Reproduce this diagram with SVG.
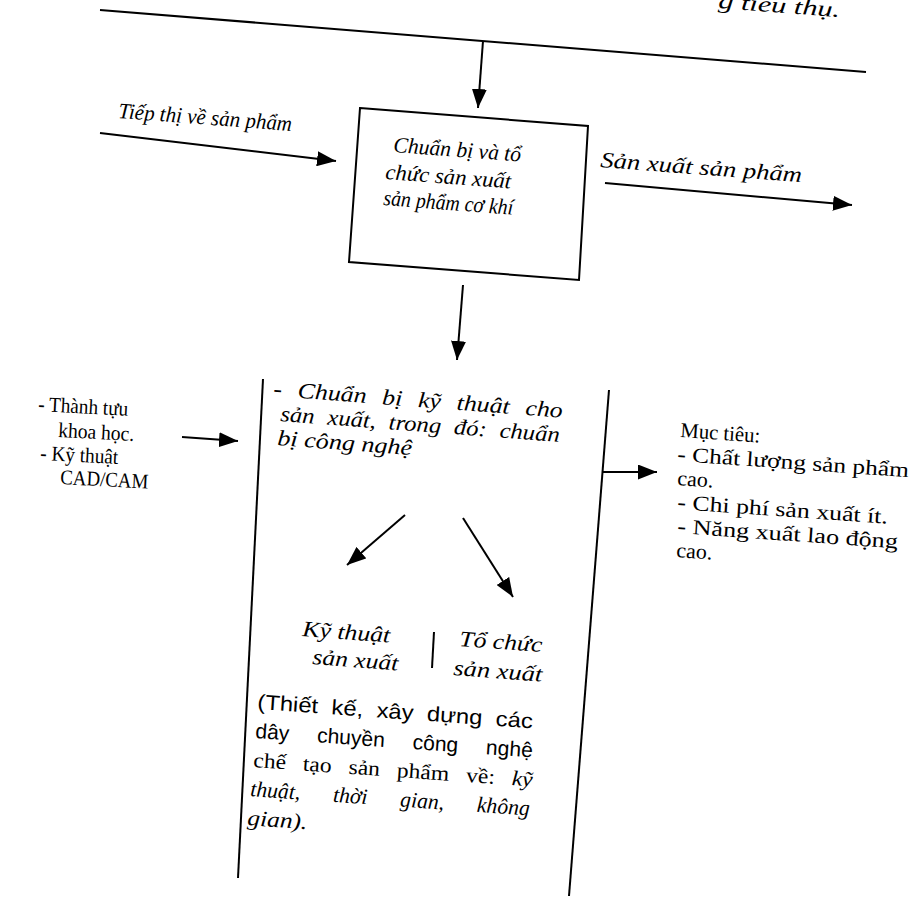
<svg xmlns="http://www.w3.org/2000/svg" width="921" height="903" viewBox="0 0 921 903">
<defs>
<marker id="ah" markerUnits="userSpaceOnUse" markerWidth="19" markerHeight="15" refX="19" refY="7.5" orient="auto">
<path d="M0,0 L19,7.5 L0,15 z" fill="#000"/>
</marker>
<style>
.ln{stroke:#000;stroke-width:2;fill:none}
.ar{stroke:#000;stroke-width:2;fill:none;marker-end:url(#ah)}
.it{font-family:"Liberation Serif",serif;font-style:italic;font-size:22px;fill:#000}
.rm{font-family:"Liberation Serif",serif;font-size:21px;fill:#000}
.sn{font-family:"Liberation Sans",sans-serif;font-size:21px;fill:#000}
</style>
</defs>
<rect width="921" height="903" fill="#fff"/>

<g id="top-label">
<text class="it" x="718" y="8" transform="rotate(4.3 718 8)" textLength="122" lengthAdjust="spacingAndGlyphs">g tiêu thụ.</text>
<line class="ln" x1="100" y1="10" x2="866" y2="72"/>
</g>

<g id="box">
<polygon class="ln" points="360,108 588,126 579,280 349,262"/>
<text class="it" x="393" y="152" transform="rotate(4.3 393 152)" textLength="128" lengthAdjust="spacingAndGlyphs">Chuẩn bị và tổ</text>
<text class="it" x="385" y="179" transform="rotate(4.3 385 179)" textLength="126" lengthAdjust="spacingAndGlyphs">chức sản xuất</text>
<text class="it" x="383" y="205" transform="rotate(4.3 383 205)" textLength="130" lengthAdjust="spacingAndGlyphs">sản phẩm cơ khí</text>
</g>

<g id="label-tiepthi">
<text class="it" x="118" y="118" transform="rotate(4.3 118 118)" textLength="174" lengthAdjust="spacingAndGlyphs">Tiếp thị về sản phẩm</text>
</g>

<g id="label-sanxuat">
<text class="it" x="600" y="167" transform="rotate(4.3 600 167)" textLength="202" lengthAdjust="spacingAndGlyphs">Sản xuất sản phẩm</text>
</g>

<g id="inputs">
<text class="rm" x="38" y="411" transform="rotate(3 38 411)" textLength="90" lengthAdjust="spacingAndGlyphs">- Thành tựu</text>
<text class="rm" x="58" y="437" transform="rotate(3 58 437)" textLength="76" lengthAdjust="spacingAndGlyphs">khoa học.</text>
<text class="rm" x="40" y="460" transform="rotate(3 40 460)" textLength="78" lengthAdjust="spacingAndGlyphs">- Kỹ thuật</text>
<text class="rm" x="60" y="484" transform="rotate(3 60 484)" textLength="88" lengthAdjust="spacingAndGlyphs">CAD/CAM</text>
</g>

<g id="frame">
<line class="ln" x1="263" y1="379" x2="238" y2="878"/>
<line class="ln" x1="609" y1="390" x2="569" y2="896"/>
<text class="it" x="273" y="396" transform="rotate(4.3 273 396)" word-spacing="8" textLength="290" lengthAdjust="spacingAndGlyphs">- Chuẩn bị kỹ thuật cho</text>
<text class="it" x="280" y="421" transform="rotate(4.3 280 421)" word-spacing="6" textLength="280" lengthAdjust="spacingAndGlyphs">sản xuất, trong đó: chuẩn</text>
<text class="it" x="277" y="445" transform="rotate(4.3 277 445)" textLength="135" lengthAdjust="spacingAndGlyphs">bị công nghệ</text>
</g>

<g id="ky-thuat">
<text class="it" x="302" y="636" transform="rotate(4.3 302 636)" textLength="88" lengthAdjust="spacingAndGlyphs">Kỹ thuật</text>
<text class="it" x="312" y="664" transform="rotate(4.3 312 664)" textLength="86" lengthAdjust="spacingAndGlyphs">sản xuất</text>
</g>

<g id="to-chuc">
<text class="it" x="459" y="646" transform="rotate(4.3 459 646)" textLength="83" lengthAdjust="spacingAndGlyphs">Tổ chức</text>
<text class="it" x="453" y="675" transform="rotate(4.3 453 675)" textLength="89" lengthAdjust="spacingAndGlyphs">sản xuất</text>
</g>

<g id="description">
<text class="sn" x="257" y="709" transform="rotate(4 257 709)" word-spacing="6" textLength="276" lengthAdjust="spacingAndGlyphs">(Thiết kế, xây dựng các</text>
<text class="sn" x="255" y="738" transform="rotate(4 255 738)" word-spacing="22" textLength="278" lengthAdjust="spacingAndGlyphs">dây chuyền công nghệ</text>
<text class="rm" x="253" y="767" transform="rotate(4 253 767)" word-spacing="10" textLength="280" lengthAdjust="spacingAndGlyphs">chế tạo sản phẩm về: <tspan font-style="italic">kỹ</tspan></text>
<text class="it" x="250" y="796" transform="rotate(4 250 796)" font-size="21" word-spacing="28" textLength="280" lengthAdjust="spacingAndGlyphs">thuật, thời gian, không</text>
<text class="it" x="247" y="825" transform="rotate(4 247 825)" font-size="21" textLength="60" lengthAdjust="spacingAndGlyphs">gian).</text>
</g>

<g id="goals">
<text class="rm" x="680" y="437" transform="rotate(4 680 437)" font-size="22" textLength="80" lengthAdjust="spacingAndGlyphs">Mục tiêu:</text>
<text class="rm" x="677" y="461" transform="rotate(4 677 461)" font-size="22" textLength="232" lengthAdjust="spacingAndGlyphs">- Chất lượng sản phẩm</text>
<text class="rm" x="677" y="485" transform="rotate(4 677 485)" font-size="22" textLength="36" lengthAdjust="spacingAndGlyphs">cao.</text>
<text class="rm" x="677" y="509" transform="rotate(4 677 509)" font-size="22" textLength="211" lengthAdjust="spacingAndGlyphs">- Chi phí sản xuất ít.</text>
<text class="rm" x="677" y="533" transform="rotate(4 677 533)" font-size="22" textLength="221" lengthAdjust="spacingAndGlyphs">- Năng xuất lao động</text>
<text class="rm" x="676" y="557" transform="rotate(4 676 557)" font-size="22" textLength="36" lengthAdjust="spacingAndGlyphs">cao.</text>
</g>

<g id="connectors">
<line class="ar" x1="483" y1="41" x2="478" y2="108"/>
<line class="ar" x1="100" y1="133" x2="336" y2="161"/>
<line class="ar" x1="605" y1="183" x2="852" y2="205"/>
<line class="ar" x1="463" y1="285" x2="457" y2="360"/>
<line class="ar" x1="182" y1="437" x2="238" y2="441"/>
<line class="ar" x1="603" y1="472" x2="657" y2="472"/>
<line class="ar" x1="405" y1="515" x2="347" y2="565"/>
<line class="ar" x1="463" y1="518" x2="513" y2="597"/>
<line class="ln" x1="434" y1="632" x2="432" y2="668"/>
</g>
</svg>
